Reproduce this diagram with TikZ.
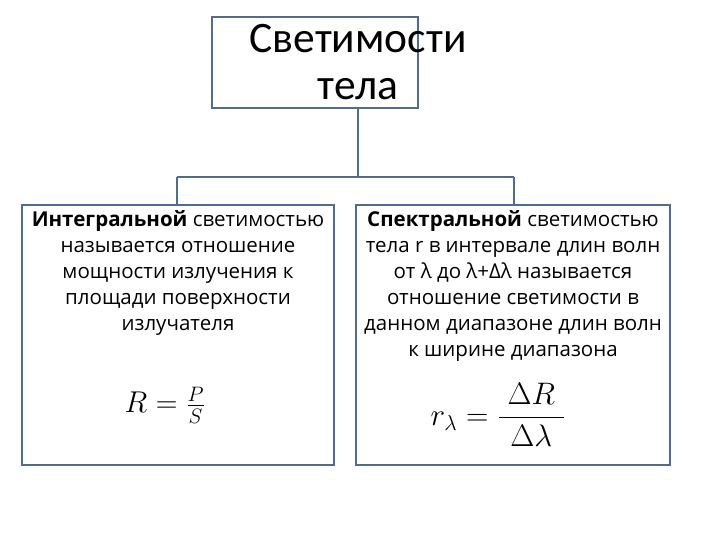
\documentclass[tikz,border=0pt]{standalone}
\usepackage{fontspec}
\setmainfont{Open Sans}
\newfontfamily\titlefont{Carlito}
\usepackage{amsmath}
\definecolor{bx}{HTML}{4F6D8F}
\begin{document}
\begin{tikzpicture}[x=1pt,y=-1pt,
  box/.style={draw=bx,line width=2.2pt},
  ln/.style={draw=bx,line width=2pt},
  body/.style={font=\fontsize{20.5}{26}\selectfont,align=center,anchor=north}]
\useasboundingbox (0,0) rectangle (720,540);
\node[box,minimum width=206pt,minimum height=91pt] (top) at (315,62.5) {};
\node[font=\titlefont\fontsize{43.5}{47}\selectfont,align=center] (tt) at (358,62) {Светимости\\тела};
\node[box,minimum width=312pt,minimum height=260pt] (L) at (178,335) {};
\node[box,minimum width=314pt,minimum height=260pt] (R) at (513,335) {};
\coordinate (j) at (358,177);
\coordinate (jl) at (177,177);
\coordinate (jr) at (514,177);
\draw[ln] (358,108) -- (j);
\draw[ln] (jl) -- (jr);
\draw[ln] (jl) -- (177,205);
\draw[ln] (jr) -- (514,205);
\node[body] (lt) at (178,207) {\textbf{Интегральной} светимостью\\называется отношение\\мощности излучения к\\площади поверхности\\излучателя};
\node[body] (rt) at (513,207) {\textbf{Спектральной} светимостью\\тела r в интервале длин волн\\от λ до λ+Δλ называется\\отношение светимости в\\данном диапазоне длин волн\\к ширине диапазона};
\node[font=\huge,scale=1.45] (lf) at (165,405) {$R=\tfrac{P}{S}$};
\node[font=\huge,scale=1.5] (rf) at (498,415) {$r_\lambda=\dfrac{\;\Delta R\;}{\Delta\lambda}$};
\end{tikzpicture}
\end{document}
